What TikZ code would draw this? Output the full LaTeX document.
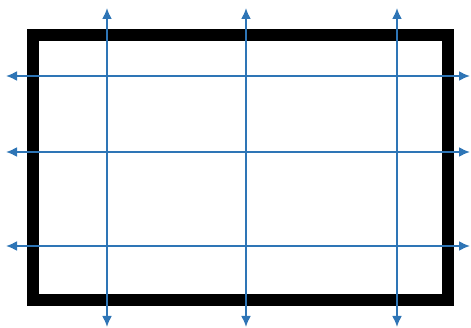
\documentclass[tikz,border=0pt]{standalone}
\usetikzlibrary{arrows.meta}
\definecolor{gridblue}{RGB}{46,117,182}
\begin{document}
\begin{tikzpicture}[x=1pt,y=-1pt,
  frame/.style={line width=12pt,black},
  gridline/.style={gridblue,line width=2pt,{Latex[length=11pt,width=10pt]}-{Latex[length=11pt,width=10pt]}}]
  \useasboundingbox (0,0) rectangle (471,328);
  % outer frame
  \draw[frame] (32.5,35.5) rectangle (447.5,300);
  % vertical lines
  \foreach \x in {107,246,397}
    \draw[gridline] (\x,8) -- (\x,327);
  % horizontal lines
  \foreach \y in {76,152,246}
    \draw[gridline] (6,\y) -- (470,\y);
\end{tikzpicture}
\end{document}
